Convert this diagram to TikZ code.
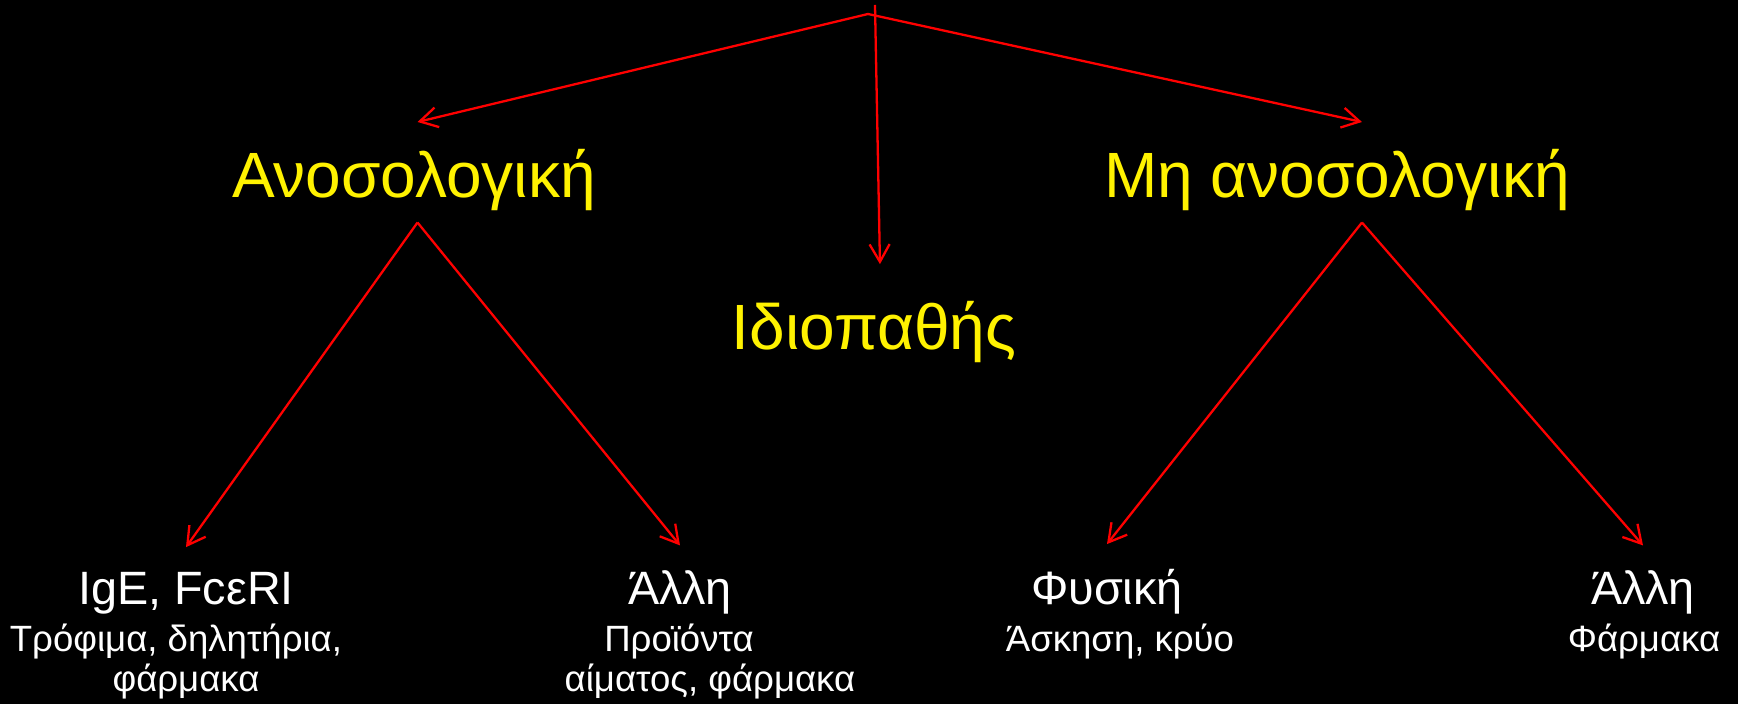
\documentclass[tikz,border=0pt]{standalone}
\usepackage{fontspec}
\setmainfont{Liberation Sans}
\usetikzlibrary{arrows.meta}
\begin{document}
\begin{tikzpicture}[x=0.01cm, y=-0.01cm, >={Straight Barb[length=5pt, width=5.7pt]},
    link/.style={->, red, line width=0.65pt},
    branch/.style={text=yellow, inner sep=0pt, anchor=base, font=\fontsize{18.2pt}{21pt}\selectfont},
    leaf/.style={text=white, inner sep=0pt, anchor=base, font=\fontsize{13.3pt}{15pt}\selectfont},
    detail/.style={text=white, inner sep=0pt, anchor=base, align=center, font=\fontsize{10.4pt}{11.4pt}\selectfont}]

    % background
    \fill[black] (0,0) rectangle (1738,704);
    \useasboundingbox (0,0) rectangle (1738,704);

    % root
    \coordinate (top) at (868,14);
    \coordinate (stem) at (875,5);

    % second level
    \node[branch] (immun) at (414,198) {Ανοσολογική};
    \node[branch] (nonimmun) at (1337,198) {Μη ανοσολογική};
    \node[branch] (idio) at (874,350) {Ιδιοπαθής};

    % leaves (multi-line text sits on its last baseline)
    \node[leaf] (ige) at (186,605) {IgE, FcεRI};
    \node[detail] (igedet) at (186,692) {Τρόφιμα, δηλητήρια,\hspace*{0.2cm}\\φάρμακα};
    \node[leaf] (other) at (680,605) {Άλλη};
    \node[detail] (otherdet) at (710,692) {Προϊόντα\hspace*{0.62cm}\\αίματος, φάρμακα};
    \node[leaf] (phys) at (1107,605) {Φυσική};
    \node[detail] (physdet) at (1120,652) {Άσκηση, κρύο};
    \node[leaf] (drug) at (1643,605) {Άλλη};
    \node[detail] (drugdet) at (1644,652) {Φάρμακα};

    % arrows
    \draw[link] (top) -- ([xshift=1pt, yshift=7.7pt]immun.north);
    \draw[link] (top) -- ([xshift=7.1pt, yshift=7.7pt]nonimmun.north);
    \draw[link] (stem) -- ([xshift=1.7pt, yshift=10.5pt]idio.north);

    \draw[link] ([xshift=1pt, yshift=-3pt]immun.south) -- ([yshift=7.1pt]ige.north);
    \draw[link] ([xshift=1pt, yshift=-3pt]immun.south) -- ([yshift=7.1pt]other.north);
    \draw[link] ([xshift=7.1pt, yshift=-3pt]nonimmun.south) -- ([yshift=7.1pt]phys.north);
    \draw[link] ([xshift=7.1pt, yshift=-3pt]nonimmun.south) -- ([yshift=7.1pt]drug.north);

\end{tikzpicture}
\end{document}
